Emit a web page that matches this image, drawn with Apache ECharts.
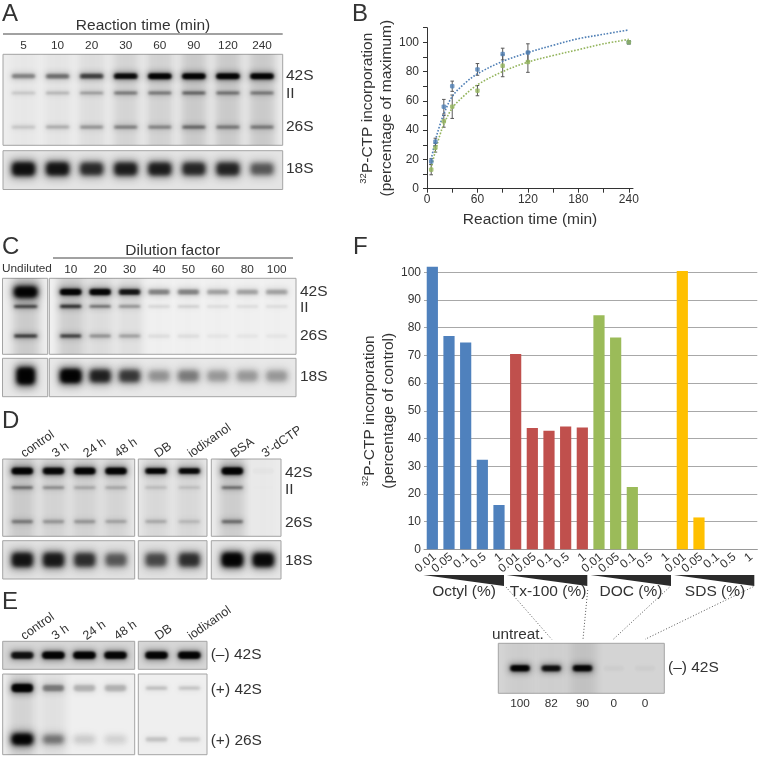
<!DOCTYPE html>
<html><head><meta charset="utf-8">
<style>html,body{margin:0;padding:0;background:#fff}#c{width:760px;height:758px}</style>
<script src="https://cdn.jsdelivr.net/npm/echarts@6/dist/echarts.min.js"></script>
</head><body><div id="c"></div>
<script>
// ---------- Panel B values ----------
const timeMinutes = [5, 10, 20, 30, 60, 90, 120, 240];
const blueMean = [18.5, 32, 56, 70, 81.5, 92, 93, 100];
const blueSd = [2, 2.5, 5, 3.5, 4, 4, 6, 1];
const greenMean = [13, 28, 46, 56, 67, 84, 86.5, 100];
const greenSd = [3.5, 3, 4, 8, 3.5, 7.5, 7, 1];
const blueFit = [[5,20],[10,33],[15,43],[20,51],[30,63],[45,72],[60,78.5],[90,87],[120,93],[150,98],[180,102.5],[210,105.5],[240,108.5]];
const greenFit = [[5,14],[10,26],[15,36],[20,44],[30,55],[45,64],[60,71],[90,80],[120,86.5],[150,91],[180,95],[210,99],[240,102]];
// ---------- Panel F values ----------
const detergentDoses = ['0.01','0.05','0.1','0.5','1'];
const octylValues = [102, 77, 74.7, 32.3, 16];
const tx100Values = [70.5, 43.8, 42.8, 44.3, 44];
const docValues = [84.5, 76.5, 22.5, 0, 0];
const sdsValues = [100.5, 11.5, 0, 0, 0];
const insetLabels = ['100','82','90','0','0'];
// ---------- Gel band intensities (0 = none, 1 = saturated) ----------
const reactionLabels = ['5','10','20','30','60','90','120','240'];
const a42S=[.36,.42,.6,.92,1,1,1,1], aII=[.14,.2,.28,.38,.38,.46,.4,.38], a26S=[.14,.22,.28,.34,.32,.42,.36,.36], aSmear=[.03,.05,.09,.14,.16,.2,.2,.2], a18S=[.86,.82,.68,.76,.76,.7,.72,.48];
const dilutionLabels = ['10','20','30','40','50','60','80','100'];
const c42S=[1,.98,.82,.36,.36,.26,.26,.26], cII=[.68,.42,.3,.1,.12,.08,.08,.08], c26S=[.56,.3,.25,.08,.08,.05,.05,.05], cSmear=[.2,.12,.1,.01,.01,.01,.01,.01], c18S=[1,.74,.62,.28,.36,.26,.26,.26];
const u42S=[1], uII=[.58], u26S=[.58], uSmear=[.2], u18S=[1];
const treatLabels = ['control','3 h','24 h','48 h'], bufferLabels = ['DB','iodixanol'], bsaLabels = ['BSA',"3'-dCTP"];
const d42S=[1,.95,1,1], dII=[.42,.3,.2,.2], d26S=[.36,.26,.26,.22], dSmear=[.18,.13,.13,.12], d18S=[.82,.78,.66,.48];
const b42S=[.98,.93], bII=[.13,.12], b26S=[.2,.15], bSmear=[.1,.1], b18S=[.54,.66];
const s42S=[1,.02], sII=[.42,.01], s26S=[.42,0], sSmear=[.18,.02], s18S=[1,.92];
const eTop=[.85,1,1,.96], eTopB=[.98,.98], ePlus42=[1,.36,.2,.2], ePlus26=[1,.38,.12,.1], eSmear=[.16,.08,0,0], ePlus42B=[.17,.15], ePlus26B=[.15,.12];
const inset42S=[1,.86,.96,.03,.03], insetSmear=[.05,.04,.12,0,0];

const FONT='"Liberation Sans",Arial,sans-serif', INK='#333';
const none=v=>v.map(()=>0);
// frame px, first and last lane centre px
const gels=[
 {f:[3,54.3,282.7,145.3],l:[23.5,262],n:8,top:reactionLabels,m:3,bg:'#ededed',sm:aSmear,w:26,rows:[{y:.24,h:6,v:a42S},{y:.425,h:4,v:aII},{y:.8,h:4.5,v:a26S}]},
 {f:[3,150.7,282.7,189.5],l:[23.5,262],n:8,bg:'#e4e4e4',sm:none(a18S),w:26,rows:[{y:.47,h:14,v:a18S}]},
 {f:[2.5,278.3,47.7,354.3],l:[25.7,25.7],n:1,bg:'#eeeeee',sm:uSmear,w:26,rows:[{y:.18,h:11,v:u42S},{y:.37,h:4,v:uII},{y:.76,h:4.5,v:u26S}]},
 {f:[49.3,278.3,296,354.3],l:[70.7,276.7],n:8,top:dilutionLabels,m:3,bg:'#f1f1f1',sm:cSmear,w:24,rows:[{y:.18,h:6.5,v:c42S},{y:.37,h:4,v:cII},{y:.76,h:4.5,v:c26S}]},
 {f:[2.5,358.3,47.7,396.7],l:[25.7,25.7],n:1,bg:'#e8e8e8',sm:none(u18S),w:21,rows:[{y:.46,h:17,v:u18S}]},
 {f:[49.3,358.3,296,396.7],l:[70.7,276.7],n:8,bg:'#e8e8e8',sm:none(c18S),w:24,rows:[{y:.46,h:14,v:c18S}]},
 {f:[2.7,459,134.7,536.3],l:[22.3,116],n:4,top:treatLabels,m:4,rot:35,bg:'#e9e9e9',sm:dSmear,w:24,rows:[{y:.155,h:7,v:d42S},{y:.37,h:4,v:dII},{y:.81,h:4.5,v:d26S}]},
 {f:[138.3,459,207,536.3],l:[156,189.3],n:2,top:bufferLabels,m:4,rot:35,bg:'#e9e9e9',sm:bSmear,w:24,rows:[{y:.155,h:6,v:b42S},{y:.37,h:4,v:bII},{y:.81,h:4.5,v:b26S}]},
 {f:[211.3,459,281,536.3],l:[232.3,263.3],n:2,top:bsaLabels,m:4,rot:35,bg:'#ececec',sm:sSmear,w:24,rows:[{y:.155,h:7.5,v:s42S},{y:.37,h:4,v:sII},{y:.81,h:4.5,v:s26S}]},
 {f:[2.7,540.7,134.7,579],l:[22.3,116],n:4,bg:'#e2e2e2',sm:none(d18S),w:24,rows:[{y:.5,h:15,v:d18S}]},
 {f:[138.3,540.7,207,579],l:[156,189.3],n:2,bg:'#e2e2e2',sm:none(b18S),w:24,rows:[{y:.5,h:15,v:b18S}]},
 {f:[211.3,540.7,281,579],l:[232.3,263.3],n:2,bg:'#e6e6e6',sm:none(s18S),w:24,rows:[{y:.5,h:14,v:s18S}]},
 {f:[2.7,641.3,134.7,669.3],l:[22.3,115.5],n:4,top:treatLabels,m:4,rot:35,bg:'#d6d6d6',sm:none(eTop),w:25,rows:[{y:.5,h:7.5,v:eTop}]},
 {f:[138.3,641.3,207,669.3],l:[156.5,189.3],n:2,top:bufferLabels,m:4,rot:35,bg:'#d6d6d6',sm:none(eTopB),w:25,rows:[{y:.5,h:7.5,v:eTopB}]},
 {f:[2.7,674,134.7,754.7],l:[22.3,115.5],n:4,bg:'#efefef',sm:eSmear,w:24,rows:[{y:.175,h:8.5,v:ePlus42},{y:.81,h:11,v:ePlus26}]},
 {f:[138.3,674,207,754.7],l:[156.5,189.3],n:2,bg:'#efefef',sm:none(ePlus42B),w:24,rows:[{y:.175,h:5,v:ePlus42B},{y:.81,h:6,v:ePlus26B}]},
 {f:[498.3,643.3,664.3,693.3],l:[520,645],n:5,bottom:insetLabels,m:4,bg:'#d4d4d4',sm:insetSmear,w:22,rows:[{y:.5,h:6.5,v:inset42S}]}
];

// A soft shape: the solid body sits off the page, only its blurred shadow lands on the gel.
const OFF=3000;
const soft=(x,y,w,h,r,color,blur)=>({type:'rect',shape:{x:x-OFF,y,width:w,height:h,r},
  style:{fill:'#000',shadowColor:color,shadowBlur:blur,shadowOffsetX:OFF,shadowOffsetY:0}});

const grids=[],xAxes=[],yAxes=[],series=[];
gels.forEach(p=>{
  const i=grids.length,[x0,y0,x1,y1]=p.f;
  const step=p.n>1?(p.l[1]-p.l[0])/(p.n-1):40;
  const labels=p.top||p.bottom;
  grids.push({left:x0,top:y0,width:x1-x0,height:y1-y0,show:true,backgroundColor:p.bg,borderColor:'#a4a4a4',borderWidth:1});
  xAxes.push({gridIndex:i,type:'value',min:(x0-p.l[0])/step,max:(x1-p.l[0])/step,position:p.bottom?'bottom':'top',
    axisLine:{show:false},axisTick:{show:false},splitLine:{show:false},
    axisLabel:{show:!!labels,customValues:labels?labels.map((_,k)=>k):[],formatter:v=>labels?labels[v]:'',margin:p.m||4,rotate:p.rot||0,color:INK,fontFamily:FONT,fontSize:p.rot?12.5:11.8}});
  yAxes.push({gridIndex:i,type:'value',min:0,max:1,inverse:true,show:false});
  series.push({type:'custom',xAxisIndex:i,yAxisIndex:i,clip:true,silent:true,
    data:p.sm.map((s,k)=>[k,s]),
    renderItem:(ps,api)=>{
      const s=api.value(1); if(!s) return null;
      const a=api.coord([api.value(0),0]),b=api.coord([api.value(0),1]);
      return soft(a[0]-13,a[1]-14,26,b[1]-a[1]+28,0,'rgba(0,0,0,'+s*0.72+')',8);
    }});
  series.push({type:'custom',xAxisIndex:i,yAxisIndex:i,clip:true,silent:true,
    data:p.rows.flatMap((r,ri)=>r.v.map((v,k)=>[k,r.y,v,ri])),
    renderItem:(ps,api)=>{
      const v=api.value(2); if(!v) return null;
      const c=api.coord([api.value(0),api.value(1)]),h=p.rows[api.value(3)].h;
      const hh=h*(0.72+0.28*v), r=Math.min(hh/2,4);
      const core='rgba(0,0,0,'+Math.min(1,v*0.9)+')',halo='rgba(0,0,0,'+v*0.4+')';
      const coreBlur=h>10?5:2.5, haloBlur=h>10?8:6;
      return {type:'group',children:[
        soft(c[0]-p.w/2,c[1]-hh*0.75,p.w,hh*1.5,r,halo,haloBlur),
        soft(c[0]-p.w/2+1,c[1]-hh/2,p.w-2,hh,r,core,coreBlur),
        soft(c[0]-p.w/2+3,c[1]-hh/2+1,p.w-6,Math.max(1,hh-2),r,'rgba(0,0,0,'+v*v*0.8+')',coreBlur*0.7)
      ]};
    }});
});

// Panel B
const bi=grids.length;
const titleRich={s:{fontSize:9.5,fontFamily:FONT,color:INK,verticalAlign:'top',lineHeight:19},t:{fontSize:15.5,fontFamily:FONT,color:INK,lineHeight:19}};
grids.push({left:427,top:27.7,width:206,height:161});
xAxes.push({gridIndex:bi,type:'value',min:0,max:245,name:'Reaction time (min)',nameLocation:'middle',nameGap:23,
  nameTextStyle:{fontFamily:FONT,fontSize:15.5,color:INK},
  axisLine:{lineStyle:{color:INK,width:1}},axisTick:{length:4,lineStyle:{color:INK},customValues:[0,30,60,90,120,150,180,210,240]},
  splitLine:{show:false},axisLabel:{customValues:[0,60,120,180,240],margin:5,color:INK,fontFamily:FONT,fontSize:12}});
yAxes.push({gridIndex:bi,type:'value',min:0,max:110,name:'{s|32}{t|P-CTP incorporation}\n{t|(percentage of maximum)}',nameLocation:'middle',nameGap:25,
  nameTextStyle:{rich:titleRich},
  axisLine:{show:true,lineStyle:{color:INK,width:1}},axisTick:{show:true,length:4,lineStyle:{color:INK},customValues:[0,10,20,30,40,50,60,70,80,90,100,110]},
  splitLine:{show:false},axisLabel:{customValues:[0,20,40,60,80,100],margin:8,color:INK,fontFamily:FONT,fontSize:12}});
const bSeries=(fit,mean,sd,color)=>[
  {type:'line',xAxisIndex:bi,yAxisIndex:bi,data:fit,smooth:0.35,showSymbol:false,silent:true,lineStyle:{color,width:1.6,type:[1.6,1.6]}},
  {type:'custom',xAxisIndex:bi,yAxisIndex:bi,silent:true,data:timeMinutes.map((t,k)=>[t,mean[k]-sd[k],mean[k]+sd[k]]),
    renderItem:(ps,api)=>{
      const a=api.coord([api.value(0),api.value(1)]),b=api.coord([api.value(0),api.value(2)]);
      const st={stroke:'#595959',lineWidth:1,fill:null};
      return {type:'group',children:[
        {type:'line',shape:{x1:a[0],y1:a[1],x2:b[0],y2:b[1]},style:st},
        {type:'line',shape:{x1:a[0]-1.8,y1:a[1],x2:a[0]+1.8,y2:a[1]},style:st},
        {type:'line',shape:{x1:b[0]-1.8,y1:b[1],x2:b[0]+1.8,y2:b[1]},style:st}]};
    }},
  {type:'scatter',xAxisIndex:bi,yAxisIndex:bi,silent:true,data:timeMinutes.map((t,k)=>[t,mean[k]]),symbol:'roundRect',symbolSize:4.5,itemStyle:{color},z:5}
];
series.push(...bSeries(blueFit,blueMean,blueSd,'#4f7fb5'),...bSeries(greenFit,greenMean,greenSd,'#93b45c'));

// Panel F
const fi=grids.length;
const pad=(vals,g)=>Array(20).fill(null).map((_,k)=>(k>=g*5&&k<(g+1)*5)?vals[k-g*5]:null);
grids.push({left:424,top:272.3,width:333.3,height:277});
xAxes.push({gridIndex:fi,type:'category',data:[0,1,2,3].flatMap(()=>detergentDoses),
  axisLine:{lineStyle:{color:'#9a9a9a'}},axisTick:{show:false},
  axisLabel:{interval:0,rotate:40,margin:8,color:INK,fontFamily:FONT,fontSize:12,padding:[0,-3,0,0]}});
yAxes.push({gridIndex:fi,type:'value',min:0,max:100,interval:10,
  name:'{s|32}{t|P-CTP incorporation}\n{t|(percentage of control)}',nameLocation:'middle',nameGap:25,nameTextStyle:{rich:titleRich},
  axisLine:{show:false},axisTick:{show:false},splitLine:{lineStyle:{color:'#a8a8a8',width:1}},
  axisLabel:{margin:3,color:INK,fontFamily:FONT,fontSize:12}});
[[octylValues,'#4f81bd'],[tx100Values,'#c0504d'],[docValues,'#9bbb59'],[sdsValues,'#ffc000']].forEach(([v,color],g)=>{
  series.push({type:'bar',xAxisIndex:fi,yAxisIndex:fi,data:pad(v,g),barWidth:11.2,barGap:'-100%',clip:false,silent:true,itemStyle:{color},z:3});
});

// Text, rules, wedges
const txt=(x,y,s,size,align)=>({type:'text',x,y,silent:true,style:{text:s,fill:INK,font:size+'px '+FONT,fontFamily:FONT,fontSize:size,align:align||'left',textAlign:align||'left',verticalAlign:'middle',textVerticalAlign:'middle'}});
const rule=(x1,y1,x2,y2,extra)=>({type:'line',silent:true,shape:{x1,y1,x2,y2},style:Object.assign({stroke:'#444',lineWidth:1},extra||{})});
const wedge=(x0,x1)=>({type:'polygon',silent:true,shape:{points:[[x0,575],[x1,575],[x1,586]]},style:{fill:'#2b2b2b'}});
const dot={stroke:'#555',lineWidth:1,lineDash:[1,2]};
const graphicEls=[
 txt(2,14,'A',24),txt(352,14,'B',24),txt(2,247,'C',24),txt(353,247,'F',24),txt(2,421,'D',24),txt(2,602,'E',24),
 txt(143,26,'Reaction time (min)',15.5,'center'),rule(3,34,282.7,34),
 txt(286,75.5,'42S',15.5),txt(286,94,'II',15.5),txt(286,127,'26S',15.5),txt(286,169,'18S',15.5),
 txt(172.7,250.7,'Dilution factor',15.5,'center'),rule(53,258,293,258),txt(2,269,'Undiluted',11.8),
 txt(300,292,'42S',15.5),txt(300,308,'II',15.5),txt(300,336,'26S',15.5),txt(300,377,'18S',15.5),
 txt(285,472.7,'42S',15.5),txt(285,490,'II',15.5),txt(285,522.7,'26S',15.5),txt(285,561,'18S',15.5),
 txt(210.7,655,'(\u2013) 42S',15.5),txt(210.7,690,'(+) 42S',15.5),txt(210.7,741,'(+) 26S',15.5),
 wedge(423.3,504),wedge(506.7,587.3),wedge(590.7,671),wedge(674,754.3),
 txt(464,592,'Octyl (%)',15.5,'center'),txt(548,592,'Tx-100 (%)',15.5,'center'),txt(631,592,'DOC (%)',15.5,'center'),txt(715,592,'SDS (%)',15.5,'center'),
 rule(506,587,551.7,639.3,dot),rule(587.7,590,583,639.3,dot),rule(669.3,587.3,613.3,639.3,dot),rule(753.3,586.7,645,639.3,dot),
 txt(492,635,'untreat.',15.3),txt(668,668,'(\u2013) 42S',15.5)
];

const chart=echarts.init(document.getElementById('c'),null,{renderer:'canvas'});
chart.setOption({animation:false,backgroundColor:'#fff',grid:grids,xAxis:xAxes,yAxis:yAxes,series,graphic:{elements:graphicEls}});
</script></body></html>
